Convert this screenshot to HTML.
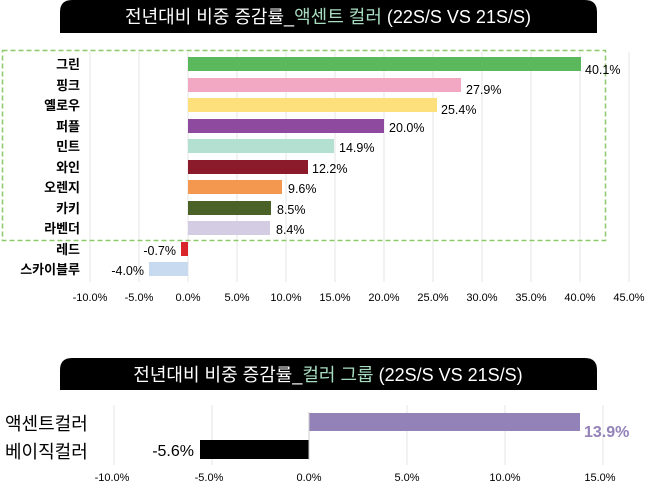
<!DOCTYPE html>
<html><head><meta charset="utf-8"><style>
body{margin:0;width:650px;height:492px;background:#fff;overflow:hidden;font-family:"Liberation Sans","Noto Sans CJK KR",sans-serif;}
svg text{font-family:"Liberation Sans","Noto Sans CJK KR",sans-serif;}
</style></head><body>
<svg width="650" height="492" xmlns="http://www.w3.org/2000/svg">
<path d="M60 33 V12 Q60 0 72 0 H585 Q597 0 597 12 V33 Z" fill="#000"/>
<text x="328" y="23" text-anchor="middle" font-size="18" fill="#fff">전년대비 비중 증감률_<tspan fill="#a8dcc0">액센트 컬러</tspan> (22S/S VS 21S/S)</text>
<g stroke="#e6e6e6" stroke-width="1">
<line x1="90" y1="52" x2="90" y2="282"/><line x1="139" y1="52" x2="139" y2="282"/><line x1="188" y1="52" x2="188" y2="282"/><line x1="237" y1="52" x2="237" y2="282"/><line x1="286" y1="52" x2="286" y2="282"/><line x1="335" y1="52" x2="335" y2="282"/><line x1="384" y1="52" x2="384" y2="282"/><line x1="433" y1="52" x2="433" y2="282"/><line x1="482" y1="52" x2="482" y2="282"/><line x1="531" y1="52" x2="531" y2="282"/><line x1="580" y1="52" x2="580" y2="282"/><line x1="629" y1="52" x2="629" y2="282"/>
</g>
<rect x="2.5" y="50.5" width="603" height="190" fill="none" stroke="#8dc86a" stroke-width="1.5" stroke-dasharray="5,3"/>
<g font-size="12.5" fill="#000">
<g text-anchor="end" font-size="13" font-weight="bold">
<text x="80" y="69">그린</text><text x="80" y="90">핑크</text><text x="80" y="110">옐로우</text><text x="80" y="131">퍼플</text><text x="80" y="151">민트</text><text x="80" y="172">와인</text><text x="80" y="192">오렌지</text><text x="80" y="213">카키</text><text x="80" y="233">라벤더</text><text x="80" y="254">레드</text><text x="80" y="274">스카이블루</text>
</g>
<rect x="188" y="57" width="393" height="14" fill="#5cb85c"/><text x="585" y="74">40.1%</text>
<rect x="188" y="78" width="273" height="14" fill="#f2a7c3"/><text x="466" y="94">27.9%</text>
<rect x="188" y="98" width="249" height="14" fill="#fddf7c"/><text x="441" y="114">25.4%</text>
<rect x="188" y="119" width="196" height="14" fill="#8e4a9e"/><text x="389" y="132">20.0%</text>
<rect x="188" y="139" width="146" height="14" fill="#b4e0d1"/><text x="339" y="152">14.9%</text>
<rect x="188" y="160" width="120" height="14" fill="#8b1a2b"/><text x="312" y="173">12.2%</text>
<rect x="188" y="180" width="94" height="14" fill="#f5984f"/><text x="288" y="193">9.6%</text>
<rect x="188" y="201" width="83" height="14" fill="#4a6128"/><text x="277" y="214">8.5%</text>
<rect x="188" y="221" width="82" height="14" fill="#d3cce3"/><text x="276" y="234">8.4%</text>
<rect x="181" y="242" width="7" height="14" fill="#d9262a"/><text x="176" y="255" text-anchor="end">-0.7%</text>
<rect x="149" y="262" width="39" height="14" fill="#c8daf0"/><text x="144" y="275" text-anchor="end">-4.0%</text>
</g>
<g font-size="11" fill="#000" text-anchor="middle">
<text x="90" y="301">-10.0%</text><text x="139" y="301">-5.0%</text><text x="188" y="301">0.0%</text><text x="237" y="301">5.0%</text><text x="286" y="301">10.0%</text><text x="335" y="301">15.0%</text><text x="384" y="301">20.0%</text><text x="433" y="301">25.0%</text><text x="482" y="301">30.0%</text><text x="531" y="301">35.0%</text><text x="580" y="301">40.0%</text><text x="629" y="301">45.0%</text>
</g>
<path d="M60 390 V370 Q60 358 72 358 H585 Q597 358 597 370 V390 Z" fill="#000"/>
<text x="328" y="381" text-anchor="middle" font-size="18" fill="#fff">전년대비 비중 증감률_<tspan fill="#a8dcc0">컬러 그룹</tspan> (22S/S VS 21S/S)</text>
<g stroke="#e6e6e6"><line x1="114" y1="405" x2="114" y2="465"/><line x1="212" y1="405" x2="212" y2="465"/><line x1="407" y1="405" x2="407" y2="465"/><line x1="505" y1="405" x2="505" y2="465"/><line x1="603" y1="405" x2="603" y2="465"/></g>
<rect x="309" y="413" width="271" height="18" fill="#9382b8"/>
<rect x="200" y="440" width="109" height="19" fill="#000"/>
<line x1="309" y1="412" x2="309" y2="460" stroke="#ccc"/>
<text x="5" y="430" font-size="18" fill="#000">액센트컬러</text>
<text x="5" y="458" font-size="18" fill="#000">베이직컬러</text>
<text x="584" y="437" font-size="16" font-weight="bold" fill="#9382b8">13.9%</text>
<text x="194" y="456" font-size="16" text-anchor="end" fill="#000">-5.6%</text>
<g font-size="11" fill="#000" text-anchor="middle">
<text x="112" y="481">-10.0%</text><text x="209" y="481">-5.0%</text><text x="309" y="481">0.0%</text><text x="407" y="481">5.0%</text><text x="505" y="481">10.0%</text><text x="600" y="481">15.0%</text>
</g>
</svg>
</body></html>
